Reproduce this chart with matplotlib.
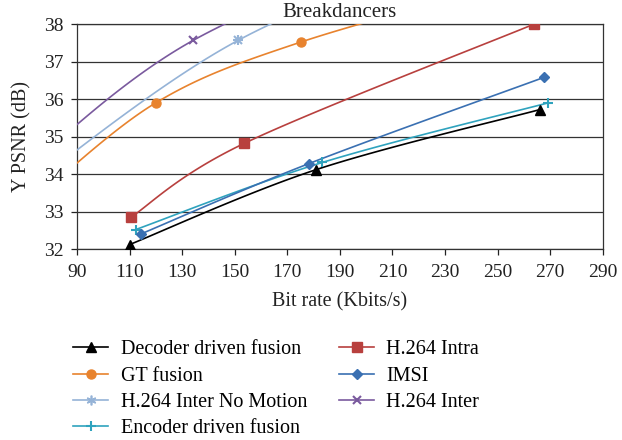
import numpy as np
import matplotlib
matplotlib.use("Agg")
import matplotlib.pyplot as plt
from matplotlib.lines import Line2D

plt.rcParams['font.family'] = ['Liberation Serif', 'DejaVu Serif']

# Data (bit rate in Kbits/s, Y PSNR in dB)
dec_x = [110.0, 181.0, 266.0]
dec_y = [32.12, 34.12, 35.72]
intra_x = [110.5, 153.6, 263.8]
intra_y = [32.85, 34.82, 38.0]
gt_x = [72.0, 119.9, 175.0, 265.0]
gt_y = [33.2, 35.9, 37.52, 39.3]
nomo_x = [72.0, 151.3, 255.0]
nomo_y = [33.7, 37.57, 40.6]
imsi_x = [114.2, 178.2, 267.6]
imsi_y = [32.4, 34.28, 36.58]
inter_x = [72.0, 134.2, 240.0]
inter_y = [34.25, 37.57, 40.8]
enc_x = [112.3, 183.3, 269.2]
enc_y = [32.52, 34.31, 35.9]

x_ticks = [90, 110, 130, 150, 170, 190, 210, 230, 250, 270, 290]
y_ticks = [32, 33, 34, 35, 36, 37, 38]


def smooth(xs, ys, n=40):
    P = np.column_stack([xs, ys]).astype(float)
    m = len(P)
    out = []
    for i in range(m - 1):
        p0 = P[i - 1] if i > 0 else P[i]
        p1 = P[i]
        p2 = P[i + 1]
        p3 = P[i + 2] if i + 2 < m else P[i + 1]
        c1 = p1 + (p2 - p0) / 6.0
        c2 = p2 - (p3 - p1) / 6.0
        t = np.linspace(0, 1, n)[:, None]
        seg = ((1 - t) ** 3) * p1 + 3 * ((1 - t) ** 2) * t * c1 + 3 * (1 - t) * t ** 2 * c2 + t ** 3 * p2
        out.append(seg if i == 0 else seg[1:])
    s = np.vstack(out)
    return s[:, 0], s[:, 1]


fig = plt.figure(figsize=(6.22, 4.40), dpi=100)
ax = fig.add_axes([0.124, 0.434, 0.845, 0.511])

series = [
    ("Decoder driven fusion", dec_x, dec_y, "black", "^", 7.5),
    ("GT fusion", gt_x, gt_y, "#E8832E", "o", 6.5),
    ("H.264 Inter No Motion", nomo_x, nomo_y, "#95B3D7", "x", 6),
    ("Encoder driven fusion", enc_x, enc_y, "#2FA3BE", "+", 7),
    ("H.264 Intra", intra_x, intra_y, "#B8403E", "s", 6.5),
    ("IMSI", imsi_x, imsi_y, "#3A70B2", "D", 5),
    ("H.264 Inter", inter_x, inter_y, "#7A5A9E", "x", 6),
]

handles = []
for name, xs, ys, c, mk, ms in series:
    sx, sy = smooth(xs, ys)
    ax.plot(sx, sy, color=c, lw=1.2, zorder=3)
    if name == "H.264 Inter No Motion":
        ax.plot(xs, ys, ls='none', marker='x', color=c, ms=ms, mew=1.5, zorder=4)
        ax.plot(xs, ys, ls='none', marker='+', color=c, ms=ms + 1, mew=1.5, zorder=4)
        h = Line2D([], [], color=c, lw=1.2, marker=(6, 2, 0), ms=ms + 1, mew=1.2)
    else:
        mew = 1.5 if mk in ("x", "+") else 1
        ax.plot(xs, ys, ls='none', marker=mk, color=c, ms=ms, mew=mew, zorder=4)
        h = Line2D([], [], color=c, lw=1.2, marker=mk, ms=ms, mew=mew)
    handles.append((h, name))

ax.set_xlim(90, 290)
ax.set_ylim(32, 38)
ax.set_xticks(x_ticks)
ax.set_yticks(y_ticks)
ax.yaxis.grid(True, color="#333333", lw=0.9)
ax.set_axisbelow(True)
for sp in ax.spines.values():
    sp.set_color("#333333")
    sp.set_linewidth(0.9)
ax.tick_params(axis='both', labelsize=14, colors="#222222", length=4, width=0.9, direction='out')
ax.tick_params(axis='x', pad=7, labelcolor="#222222")
ax.tick_params(axis='y', pad=6, labelcolor="#222222")
ax.set_xlabel("Bit rate (Kbits/s)", fontsize=14.5, color="#222222", labelpad=8)
ax.set_ylabel("Y PSNR (dB)", fontsize=14.5, color="#222222", labelpad=9)
ax.text(0.5, 1.008, "Breakdancers", transform=ax.transAxes, ha='center', va='bottom', fontsize=15, color="#222222")

fig.legend([h for h, _ in handles], [n for _, n in handles], ncol=2, loc='upper left',
           bbox_to_anchor=(0.095, 0.259), frameon=False, fontsize=14.5, handlelength=1.75,
           columnspacing=1.6, labelspacing=0.36, handletextpad=0.6, borderpad=0.2)

fig.savefig("out.png", dpi=100)
